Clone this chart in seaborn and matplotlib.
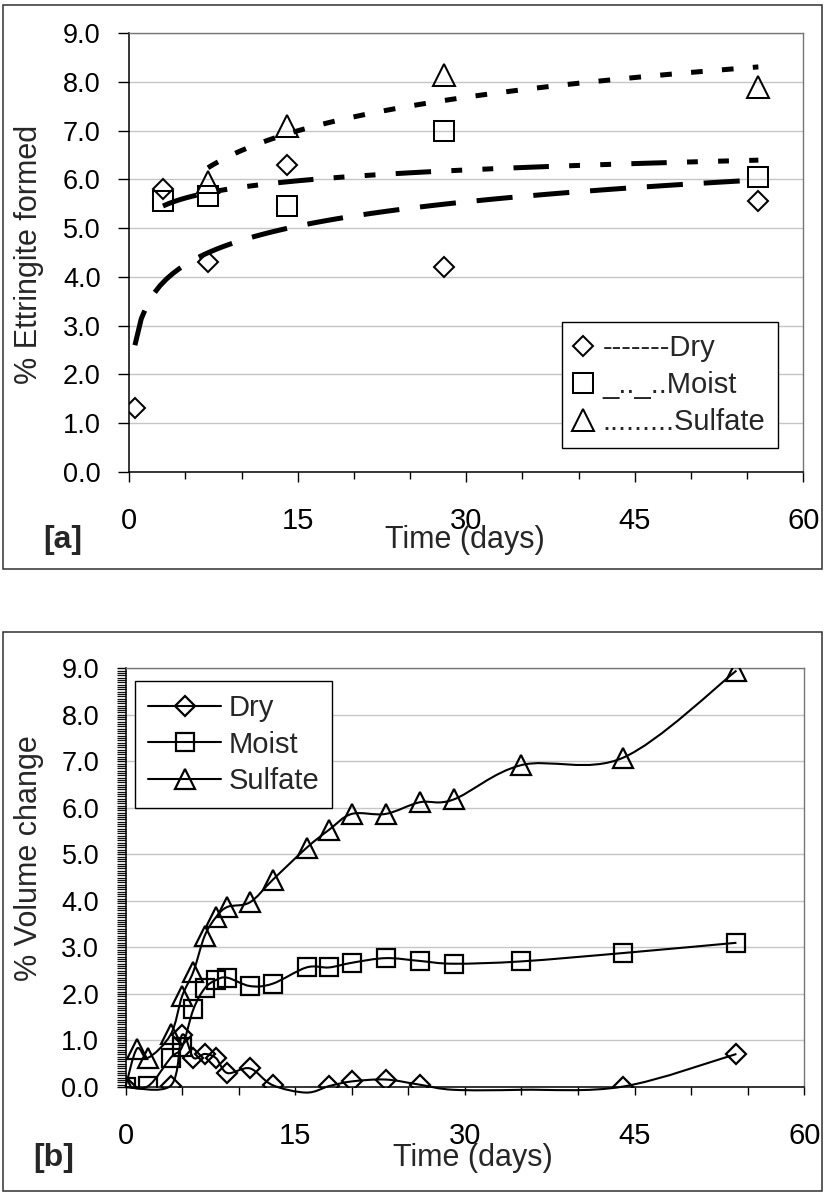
import numpy as np
import matplotlib
matplotlib.use("Agg")
import matplotlib.pyplot as plt
from matplotlib.lines import Line2D
from matplotlib.patches import Rectangle, PathPatch
from matplotlib.path import Path
from matplotlib.ticker import MultipleLocator, FormatStrFormatter
import seaborn as sns

# ---------------- panel [a]: ettringite formed ----------------
ett_dry_days = [0.5, 3, 7, 14, 28, 56]
ett_dry = [1.3, 5.8, 4.3, 6.3, 4.2, 5.55]
ett_moist_days = [3, 7, 14, 28, 56]
ett_moist = [5.55, 5.65, 5.45, 7.0, 6.05]
ett_sulfate_days = [7, 14, 28, 56]
ett_sulfate = [5.95, 7.1, 8.15, 7.9]
ett_labels = ["-------Dry", "_.._..Moist", ".........Sulfate"]

# ---------------- panel [b]: volume change ----------------
vol_dry_days = [0, 4, 5, 6, 7, 8, 9, 11, 13, 16, 18, 20, 23, 26, 29, 35, 44, 54]
vol_dry = [0.0, 0.03, 1.12, 0.63, 0.71, 0.62, 0.30, 0.40, 0.04, -0.12,
           0.02, 0.12, 0.16, 0.05, -0.06, -0.06, 0.01, 0.71]
vol_moist_days = [0, 2, 4, 5, 6, 7, 8, 9, 11, 13, 16, 18, 20, 23, 26, 29, 35, 44, 54]
vol_moist = [0.0, 0.02, 0.63, 0.86, 1.67, 2.12, 2.30, 2.35, 2.17, 2.22,
             2.57, 2.57, 2.67, 2.77, 2.71, 2.65, 2.70, 2.88, 3.10]
vol_sulfate_days = [0, 1, 2, 4, 5, 6, 7, 8, 9, 11, 13, 16, 18, 20, 23, 26, 29, 35, 44, 54]
vol_sulfate = [0.0, 0.82, 0.63, 1.13, 1.95, 2.48, 3.25, 3.65, 3.87, 3.97,
               4.45, 5.14, 5.53, 5.87, 5.87, 6.12, 6.18, 6.92, 7.08, 8.95]
vol_labels = ["Dry", "Moist", "Sulfate"]

x_label = "Time (days)"

W, H, DPI = 825, 1193, 100


def fx(px):
    return px / W


def fy(py):
    return 1 - py / H


sns.set_theme(style="ticks")
plt.rcParams["font.family"] = ["Liberation Sans", "DejaVu Sans"]
plt.rcParams["lines.scale_dashes"] = False

fig = plt.figure(figsize=(W / DPI, H / DPI), dpi=DPI, facecolor="white")
ax1 = fig.add_axes([fx(129.3), fy(471.7), (803.3 - 129.3) / W, (471.7 - 33.3) / H])
ax2 = fig.add_axes([fx(125.5), fy(1087), (804.3 - 125.5) / W, (1087 - 668.3) / H])

# outer frames around each panel
for (x0, y0, x1, y1) in [(3.3, 4.7, 822, 569.3), (2.7, 632.3, 822, 1191)]:
    fig.add_artist(Rectangle((fx(x0), fy(y1)), (x1 - x0) / W, (y1 - y0) / H,
                             transform=fig.transFigure, fill=False,
                             edgecolor="#303030", lw=1.1))


def style_axes(ax):
    ax.set_xlim(0, 60)
    ax.set_ylim(0, 9)
    ax.xaxis.set_major_locator(MultipleLocator(15))
    ax.xaxis.set_minor_locator(MultipleLocator(5))
    ax.yaxis.set_major_locator(MultipleLocator(1))
    ax.yaxis.set_major_formatter(FormatStrFormatter("%.1f"))
    ax.yaxis.grid(True, color="#c6c6c6", lw=1.0)
    ax.xaxis.grid(False)
    ax.set_axisbelow(True)
    ax.set_facecolor("white")
    for s in ("left", "bottom"):
        ax.spines[s].set_color("black")
        ax.spines[s].set_linewidth(1.1)
    for s in ("top", "right"):
        ax.spines[s].set_visible(True)
        ax.spines[s].set_color("#767676")
        ax.spines[s].set_linewidth(1.0)
    ax.set_xlabel("")
    ax.set_ylabel("")


MK = {"Dry": dict(marker="D", ms=10.5),
      "Moist": dict(marker="s", ms=13.8),
      "Sulfate": dict(marker="^", ms=15.2)}

# ---------------- panel [a] ----------------
trend_styles = [(0, (26, 15)),
                (0, (25.5, 14.6, 7.8, 14.6, 7.8, 14.6)),
                (0, (8.4, 13.9))]
ett_sets = [(ett_dry_days, ett_dry, "Dry"),
            (ett_moist_days, ett_moist, "Moist"),
            (ett_sulfate_days, ett_sulfate, "Sulfate")]
for (d, v, name), ls in zip(ett_sets, trend_styles):
    sns.regplot(x=np.array(d, float), y=np.array(v, float), logx=True,
                scatter=False, ci=None, truncate=True, ax=ax1, color="black",
                line_kws=dict(linewidth=3.6, linestyle=ls, dash_capstyle="butt"))
for d, v, name in ett_sets:
    sns.lineplot(x=d, y=v, ax=ax1, linestyle="", marker=MK[name]["marker"],
                 markersize=MK[name]["ms"], markerfacecolor="none",
                 markeredgecolor="black", markeredgewidth=1.45, color="black",
                 errorbar=None, legend=False, zorder=5)

style_axes(ax1)
ax1.tick_params(axis="x", which="major", direction="out", length=7.2, width=1.0,
                pad=18.5, labelsize=21, colors="black", bottom=True)
ax1.tick_params(axis="x", which="minor", direction="out", length=5.0, width=1.0,
                bottom=True, colors="black")
ax1.tick_params(axis="y", which="major", direction="out", length=8.0, width=1.0,
                pad=12.5, labelsize=19.5, colors="black", left=True)

h1 = [Line2D([], [], linestyle="none", marker=MK[n]["marker"], ms=MK[n]["ms"],
             mfc="none", mec="black", mew=1.45) for n in ("Dry", "Moist", "Sulfate")]
leg1 = ax1.legend(h1, ett_labels, loc="upper left",
                  bbox_to_anchor=(fx(562), fy(322)), bbox_transform=fig.transFigure,
                  borderaxespad=0, frameon=True, fancybox=False, framealpha=1,
                  edgecolor="black", facecolor="white", fontsize=21,
                  handlelength=0.57, handletextpad=0.4, borderpad=0.42,
                  labelspacing=0.3, numpoints=1)
leg1.get_frame().set_linewidth(1.0)

fig.text(fx(29), fy(254.5), "% Ettringite formed", rotation=90,
         ha="center", va="center", fontsize=22)
fig.text(fx(464.5), fy(548.3), x_label, ha="center", va="baseline", fontsize=22)
fig.text(fx(62.5), fy(548.3), "[a]", ha="center", va="baseline", fontsize=23,
         fontweight="bold")


# ---------------- panel [b] ----------------
def smooth_path(xs, ys):
    """Cubic Bezier path through the points (Catmull-Rom style tangents)."""
    pts = np.column_stack([xs, ys]).astype(float)
    n = len(pts)
    verts, codes = [pts[0]], [Path.MOVETO]
    for i in range(n - 1):
        p0 = pts[i - 1] if i > 0 else pts[i]
        p1, p2 = pts[i], pts[i + 1]
        p3 = pts[i + 2] if i + 2 < n else pts[i + 1]
        verts += [p1 + (p2 - p0) / 6, p2 - (p3 - p1) / 6, p2]
        codes += [Path.CURVE4] * 3
    return Path(verts, codes)


vol_sets = [(vol_dry_days, vol_dry, "Dry"),
            (vol_moist_days, vol_moist, "Moist"),
            (vol_sulfate_days, vol_sulfate, "Sulfate")]
for d, v, name in vol_sets:
    ax2.add_patch(PathPatch(smooth_path(d, v), facecolor="none",
                            edgecolor="black", lw=1.5, clip_on=False, zorder=3))
    d_arr, v_arr = np.asarray(d, float), np.asarray(v, float)
    shown = v_arr >= 0
    sns.lineplot(x=d_arr[shown], y=v_arr[shown], ax=ax2, linestyle="",
                 marker=MK[name]["marker"], markersize=MK[name]["ms"] * 0.97,
                 markerfacecolor="none", markeredgecolor="black",
                 markeredgewidth=1.6, color="black", errorbar=None,
                 legend=False, zorder=5)

style_axes(ax2)
ax2.yaxis.set_minor_locator(MultipleLocator(0.05))
ax2.tick_params(axis="x", which="both", direction="out", length=5.8, width=1.0,
                pad=19.5, labelsize=21, colors="black", bottom=True)
ax2.tick_params(axis="y", which="major", direction="out", length=6.5, width=1.0,
                pad=12.5, labelsize=19.5, colors="black", left=True)
ax2.tick_params(axis="y", which="minor", direction="out", length=6.5, width=0.9,
                colors="#101010", left=True)

h2 = [Line2D([], [], color="black", lw=1.5, marker=MK[n]["marker"],
             ms=MK[n]["ms"] * 0.97, mfc="none", mec="black", mew=1.6)
      for n in ("Dry", "Moist", "Sulfate")]
leg2 = ax2.legend(h2, vol_labels, loc="upper left",
                  bbox_to_anchor=(fx(135), fy(680.7)), bbox_transform=fig.transFigure,
                  borderaxespad=0, frameon=True, fancybox=False, framealpha=1,
                  edgecolor="black", facecolor="white", fontsize=21,
                  handlelength=2.5, handletextpad=0.25, borderpad=0.45,
                  labelspacing=0.3, numpoints=1)
leg2.get_frame().set_linewidth(1.0)

fig.text(fx(29), fy(858), "% Volume change", rotation=90,
         ha="center", va="center", fontsize=22)
fig.text(fx(473.3), fy(1166.3), x_label, ha="center", va="baseline", fontsize=22)
fig.text(fx(54), fy(1166.3), "[b]", ha="center", va="baseline", fontsize=23,
         fontweight="bold")

fig.savefig("out.png", dpi=DPI, facecolor="white")
